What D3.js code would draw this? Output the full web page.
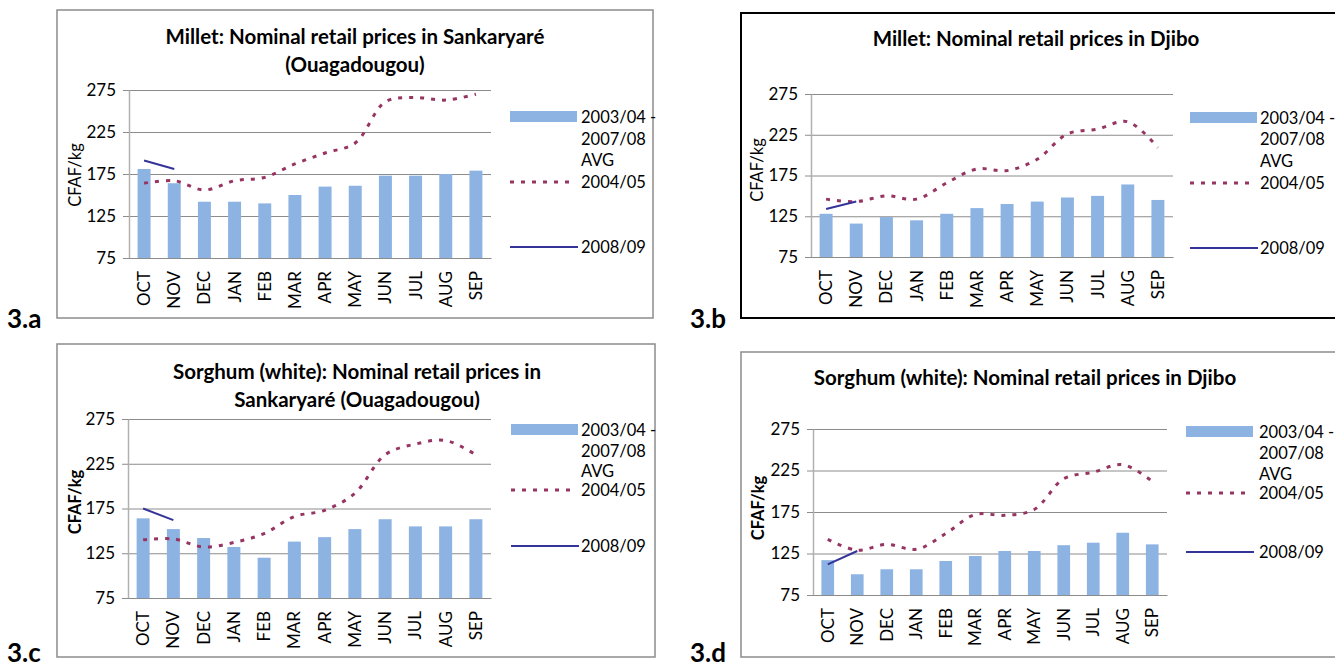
<!DOCTYPE html>
<html>
<head>
<meta charset="utf-8">
<script src="https://cdn.jsdelivr.net/npm/d3@7"></script>
<style>
  body { margin: 0; background: #fff; }
  svg text { font-family: Lato, "Open Sans", sans-serif; fill: #000; }
</style>
</head>
<body>
<svg id="chart" width="1335" height="669"></svg>
<script>
// months and ticks
var months = ['OCT','NOV','DEC','JAN','FEB','MAR','APR','MAY','JUN','JUL','AUG','SEP'];
var yTicks = [75, 125, 175, 225, 275];
var seriesNames = ['2003/04 -', '2007/08', 'AVG', '2004/05', '2008/09'];

// 3.a millet Sankaryare
var milletSankAvg  = [181, 164, 142, 142, 140, 150, 160, 161, 173, 173, 175, 179];
var milletSank0405 = [164, 167, 156, 167, 171, 187, 200, 212, 261, 266, 263, 270];
var milletSank0809 = [191, 181];

// 3.b millet Djibo
var milletDjiboAvg  = [128, 116, 124, 120, 128, 135, 140, 143, 148, 150, 164, 145];
var milletDjibo0405 = [146, 143, 150, 146, 166, 183, 181, 195, 226, 232, 241, 209];
var milletDjibo0809 = [134, 143];

// 3.c sorghum Sankaryare
var sorghumSankAvg  = [164, 152, 142, 132, 120, 138, 143, 152, 163, 155, 155, 163];
var sorghumSank0405 = [140, 141, 132, 137, 147, 166, 173, 192, 235, 247, 251, 235];
var sorghumSank0809 = [175, 162];

// 3.d sorghum Djibo
var sorghumDjiboAvg  = [117, 100, 106, 106, 116, 122, 128, 128, 135, 138, 150, 136];
var sorghumDjibo0405 = [142, 129, 136, 130, 149, 172, 171, 178, 215, 223, 232, 212];
var sorghumDjibo0809 = [112, 128];

var svg = d3.select('#chart');

function drawPanel(p){
    var g = svg.append('g');

    g.append('rect')
        .attr('x', p.box[0]).attr('y', p.box[1])
        .attr('width', p.box[2] - p.box[0]).attr('height', p.box[3] - p.box[1])
        .attr('fill', 'none')
        .attr('stroke', p.boxColor)
        .attr('stroke-width', p.boxWidth);

    g.append('text')
        .attr('x', p.tag[0]).attr('y', p.tag[1])
        .style('font-size', '26px').style('font-weight', 'bold')
        .text(p.tagText);

    p.title.forEach(function(t, i){
        g.append('text')
            .attr('x', p.titleX).attr('y', p.titleY[i])
            .attr('dy', '0.35em')
            .attr('text-anchor', 'middle')
            .style('font-size', '20.5px').style('font-weight', 'bold')
            .text(t);
    });

    var x = d3.scaleBand().domain(months).range([p.plot[0], p.plot[2]]).paddingInner(0.57).paddingOuter(0.285);
    var xc = function(i){ return x(months[i]) + x.bandwidth()/2; };
    var y = d3.scaleLinear().domain([75, 275]).range([p.plot[3], p.plot[1]]);
    var w = p.plot[2] - p.plot[0];

    // gridlines
    g.append('g')
        .attr('transform', 'translate(' + p.plot[0] + ',0)')
        .call(d3.axisLeft(y).tickValues(yTicks).tickSize(-w).tickFormat(''))
        .call(function(s){
            s.select('.domain').remove();
            s.selectAll('line').attr('stroke', '#8c8c8c');
        });

    // y axis
    g.append('g')
        .attr('transform', 'translate(' + p.plot[0] + ',0)')
        .call(d3.axisLeft(y).tickValues(yTicks).tickSize(6).tickSizeOuter(0).tickPadding(7))
        .call(function(s){
            s.select('.domain').attr('stroke', '#b0b0b0').attr('stroke-width', 1.5);
            s.selectAll('line').attr('stroke', '#8c8c8c');
            s.selectAll('text').style('font-size', '17px').style('font-family', 'Lato, sans-serif');
        });

    // bars
    g.selectAll('.bar')
        .data(p.avg)
        .enter()
        .append('rect')
        .attr('x', function(d, i){ return x(months[i]); })
        .attr('y', function(d){ return y(d); })
        .attr('width', x.bandwidth())
        .attr('height', function(d){ return y(75) - y(d); })
        .attr('fill', '#8db3e2');

    // x axis
    g.append('g')
        .attr('transform', 'translate(0,' + p.plot[3] + ')')
        .call(d3.axisBottom(x).tickSize(0).tickPadding(0))
        .call(function(s){
            s.select('.domain').attr('stroke', '#8c8c8c');
            s.selectAll('text')
                .attr('transform', 'rotate(-90)')
                .attr('x', -13).attr('y', 0).attr('dy', '0.35em')
                .attr('text-anchor', 'end')
                .style('font-size', '17px').style('font-family', 'Lato, sans-serif');
        });

    // 2004/05 smoothed dotted line
    var line = d3.line()
        .x(function(d, i){ return xc(i); })
        .y(function(d){ return y(d); })
        .curve(d3.curveCatmullRom.alpha(0.5));

    g.append('path')
        .datum(p.s0405)
        .attr('d', line)
        .attr('fill', 'none')
        .attr('stroke', '#963462')
        .attr('stroke-width', 3)
        .attr('stroke-dasharray', '4,7');

    g.append('path')
        .datum(p.s0809)
        .attr('d', d3.line().x(function(d, i){ return xc(i); }).y(function(d){ return y(d); }))
        .attr('fill', 'none')
        .attr('stroke', '#343399')
        .attr('stroke-width', 2);

    // y label
    g.append('text')
        .attr('transform', 'translate(' + p.ylab[0] + ',' + p.ylab[1] + ') rotate(-90)')
        .attr('text-anchor', 'middle').attr('dy', '0.35em')
        .style('font-size', '16.5px').style('font-weight', p.ylabBold ? 'bold' : 'normal')
        .text('CFAF/kg');

    // legend
    var L = p.legend;
    g.append('rect').attr('x', L.x).attr('y', L.rows[0] - 6).attr('width', 67).attr('height', 11).attr('fill', '#8db3e2');
    g.append('line').attr('x1', L.x).attr('x2', L.x + 60).attr('y1', L.rows[3]).attr('y2', L.rows[3])
        .attr('stroke', '#963462').attr('stroke-width', 3).attr('stroke-dasharray', '4,7');
    g.append('line').attr('x1', L.x).attr('x2', L.x + 68).attr('y1', L.rows[4]).attr('y2', L.rows[4])
        .attr('stroke', '#343399').attr('stroke-width', 2);
    seriesNames.forEach(function(t, i){
        g.append('text')
            .attr('x', L.tx).attr('y', L.rows[i]).attr('dy', '0.35em')
            .style('font-size', '16.5px')
            .text(t);
    });
}

drawPanel({
    box: [57, 10, 653, 318], boxColor: '#8c8c8c', boxWidth: 1.5,
    tag: [7, 328], tagText: '3.a',
    title: ['Millet: Nominal retail prices in Sankaryaré', '(Ouagadougou)'], titleX: 355, titleY: [37, 65],
    plot: [129, 90, 491, 258],
    ylab: [75, 175], ylabBold: false,
    legend: { x: 510, tx: 581, rows: [117, 139, 160, 182, 247] },
    avg: milletSankAvg, s0405: milletSank0405, s0809: milletSank0809
});

drawPanel({
    box: [741, 13, 1345, 318], boxColor: '#000', boxWidth: 2,
    tag: [690, 328], tagText: '3.b',
    title: ['Millet: Nominal retail prices in Djibo'], titleX: 1036, titleY: [39],
    plot: [811, 94, 1173, 257],
    ylab: [757, 170], ylabBold: false,
    legend: { x: 1190, tx: 1260, rows: [118, 139, 161, 183, 248] },
    avg: milletDjiboAvg, s0405: milletDjibo0405, s0809: milletDjibo0809
});

drawPanel({
    box: [57, 344, 655, 657], boxColor: '#8c8c8c', boxWidth: 1.5,
    tag: [7, 662], tagText: '3.c',
    title: ['Sorghum (white): Nominal retail prices in', 'Sankaryaré (Ouagadougou)'], titleX: 357, titleY: [372, 400],
    plot: [128, 419, 491, 598],
    ylab: [75, 502], ylabBold: true,
    legend: { x: 511, tx: 581, rows: [430, 451, 471, 490, 546] },
    avg: sorghumSankAvg, s0405: sorghumSank0405, s0809: sorghumSank0809
});

drawPanel({
    box: [741, 352, 1345, 657], boxColor: '#8c8c8c', boxWidth: 1.5,
    tag: [690, 662], tagText: '3.d',
    title: ['Sorghum (white): Nominal retail prices in Djibo'], titleX: 1025, titleY: [378],
    plot: [813, 429, 1167, 595],
    ylab: [758, 508], ylabBold: true,
    legend: { x: 1186, tx: 1259, rows: [432, 453, 474, 493, 552] },
    avg: sorghumDjiboAvg, s0405: sorghumDjibo0405, s0809: sorghumDjibo0809
});
</script>
</body>
</html>
